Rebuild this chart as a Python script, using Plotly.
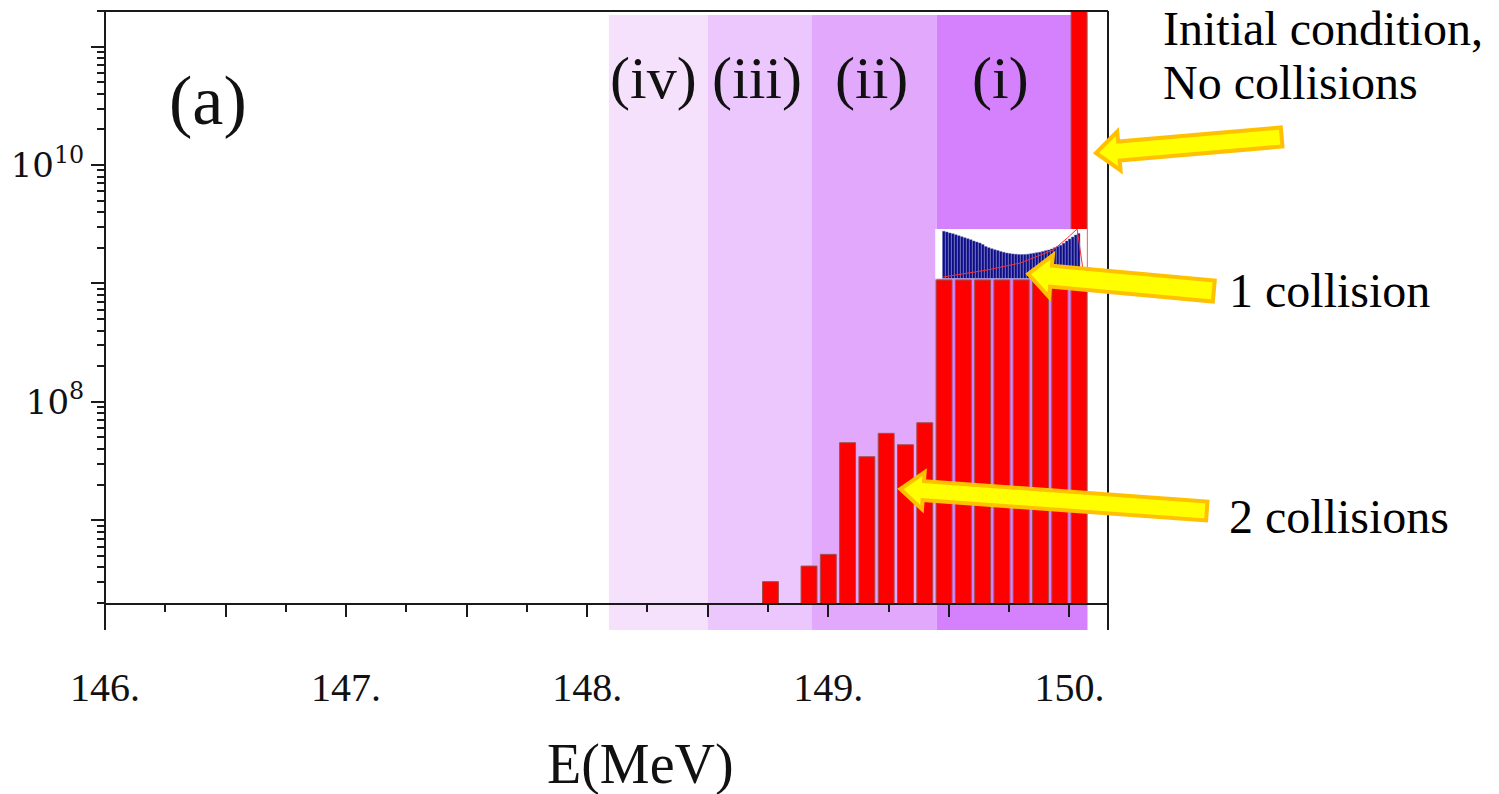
import math
import plotly.graph_objects as go

# ---------------- data ----------------
energy_bins = [150.04, 149.96, 149.88, 149.80, 149.72, 149.64, 149.56, 149.48,
               149.40, 149.32, 149.24, 149.16, 149.08, 149.00, 148.92, 148.76]
counts = [5.0e11, 1.07e9, 1.07e9, 1.07e9, 1.07e9, 1.07e9, 1.07e9, 1.07e9,
          6.66e7, 4.34e7, 5.42e7, 3.44e7, 4.52e7, 5.15e6, 4.10e6, 3.03e6]

region_labels = ["(iv)", "(iii)", "(ii)", "(i)"]
region_edges = [148.09, 148.50, 148.93, 149.45, 150.075]
region_colors = ["#f6e1fc", "#ecc7fd", "#e1a8fc", "#d580fd"]
region_label_x = [148.275, 148.705, 149.18, 149.715]

inset_bins = list(range(46))
inset_counts = [47.3, 46.5, 45.5, 44.8, 43.8, 42.8, 41.8, 40.8, 39.8, 38.8,
                37.5, 36.5, 35.5, 34.0, 32.0, 30.8, 29.8, 28.8, 28.0, 27.0,
                26.2, 25.4, 25.0, 24.6, 24.3, 24.1, 24.0, 24.1, 24.3, 24.7,
                25.2, 25.8, 26.3, 27.0, 27.8, 28.5, 29.5, 30.8, 32.0, 33.2,
                35.2, 37.5, 39.5, 41.5, 43.5, 45.0]
inset_line_x = [-0.2, 14.5, 25.5, 36.5, 41.2, 44.5, 46.8]
inset_line_y = [1.5, 8.5, 15.5, 28.5, 40.5, 49.5, 1.5]
inset_x_range = [-2.83, 47.7]
inset_y_range = [0, 49.5]

x_tick_vals = [146.0, 146.5, 147.0, 147.5, 148.0, 148.5, 149.0, 149.5, 150.0]
x_tick_text = ["146.", "", "147.", "", "148.", "", "149.", "", "150."]
y_tick_vals = [1e7, 1e8, 1e9, 1e10, 1e11]
y_tick_text = ["", "10<sup>8</sup>", "", "10<sup>10</sup>", ""]
y_minor_vals = [k * 10 ** d for d in range(6, 12) for k in range(2, 10)
                if 2e6 <= k * 10 ** d <= 2e11]

# ---------------- layout geometry (pixels) ----------------
W, H = 1499, 794
L, R, T, B = 103, 1108, 11, 603


def px(x):
    return (x - L) / (R - L)


def py(y):
    return (B - y) / (B - T)


def arrow_path(tip, tail, w=10, hw=20, hl=22):
    tx, ty = tip
    ex, ey = tail
    dx, dy = ex - tx, ey - ty
    n = math.hypot(dx, dy)
    ux, uy = dx / n, dy / n
    nx, ny = -uy, ux
    bx, by = tx + ux * hl, ty + uy * hl
    pts = [
        (tx, ty),
        (bx + nx * hw, by + ny * hw),
        (bx + nx * w, by + ny * w),
        (ex + nx * w, ey + ny * w),
        (ex - nx * w, ey - ny * w),
        (bx - nx * w, by - ny * w),
        (bx - nx * hw, by - ny * hw),
    ]
    return "M " + " L ".join(f"{px(a):.5f},{py(b):.5f}" for a, b in pts) + " Z"


fig = go.Figure()

fig.add_trace(go.Bar(
    x=energy_bins, y=counts, width=0.066,
    marker=dict(color="#ff0000", line=dict(color="#a05050", width=1)),
    xaxis="x", yaxis="y", showlegend=False,
))

# white panel behind the inset (spans the inset axes' full ranges)
fig.add_trace(go.Bar(
    x=[sum(inset_x_range) / 2], y=[inset_y_range[1]], base=[inset_y_range[0]],
    width=[inset_x_range[1] - inset_x_range[0]],
    marker=dict(color="white", line=dict(width=0)),
    xaxis="x2", yaxis="y2", showlegend=False, hoverinfo="skip",
))
fig.add_trace(go.Bar(
    x=inset_bins, y=inset_counts,
    marker=dict(color="#0d0d8a", line=dict(color="#6a6ab4", width=0.5)),
    xaxis="x2", yaxis="y2", showlegend=False,
))
fig.add_trace(go.Scatter(
    x=inset_line_x, y=inset_line_y, mode="lines",
    line=dict(color="#ff3030", width=1),
    xaxis="x2", yaxis="y2", showlegend=False,
))

shapes = []
for i in range(4):
    shapes.append(dict(type="rect", xref="x", yref="paper",
                       x0=region_edges[i], x1=region_edges[i + 1],
                       y0=py(630), y1=py(15), fillcolor=region_colors[i],
                       line=dict(width=0), layer="below"))
# frame lines
frame_col = "#1a1a1a"
shapes += [
    dict(type="line", xref="paper", yref="paper", x0=px(L), x1=px(L), y0=py(T), y1=py(630),
         line=dict(color=frame_col, width=2), layer="above"),
    dict(type="line", xref="paper", yref="paper", x0=px(R), x1=px(R), y0=py(T), y1=py(630),
         line=dict(color=frame_col, width=2), layer="above"),
    dict(type="line", xref="paper", yref="paper", x0=px(96), x1=px(R), y0=py(T), y1=py(T),
         line=dict(color=frame_col, width=2), layer="above"),
]
# arrows
for tip, tail, w, hw in [((1096, 153), (1282, 137), 9.5, 19.5),
                         ((1028, 274), (1214, 291), 10.5, 21),
                         ((900, 489), (1207, 511), 9.5, 18.5)]:
    shapes.append(dict(type="path", xref="paper", yref="paper",
                       path=arrow_path(tip, tail, w=w, hw=hw, hl=23),
                       fillcolor="#ffff00", line=dict(color="#ffc000", width=4),
                       layer="above"))

serif = "Liberation Serif"
annotations = []
for lab, xv in zip(region_labels, region_label_x):
    annotations.append(dict(text=lab, x=xv, y=py(78), xref="x", yref="paper",
                            showarrow=False, xanchor="center", yanchor="middle",
                            font=dict(family=serif, size=60, color="#111")))
annotations += [
    dict(text="(a)", x=px(206), y=py(100), xref="paper", yref="paper", showarrow=False,
         xanchor="center", yanchor="middle", font=dict(family=serif, size=70, color="#111")),
    dict(text="Initial condition,", x=px(1161), y=py(29), xref="paper", yref="paper",
         showarrow=False, xanchor="left", yanchor="middle",
         font=dict(family=serif, size=48, color="#000")),
    dict(text="No collisions", x=px(1161), y=py(83), xref="paper", yref="paper",
         showarrow=False, xanchor="left", yanchor="middle",
         font=dict(family=serif, size=48, color="#000")),
    dict(text="1 collision", x=px(1227), y=py(290), xref="paper", yref="paper",
         showarrow=False, xanchor="left", yanchor="middle",
         font=dict(family=serif, size=48, color="#000")),
    dict(text="2 collisions", x=px(1227), y=py(516), xref="paper", yref="paper",
         showarrow=False, xanchor="left", yanchor="middle",
         font=dict(family=serif, size=48, color="#000")),
    dict(text="E(MeV)", x=px(640), y=py(764), xref="paper", yref="paper",
         showarrow=False, xanchor="center", yanchor="middle",
         font=dict(family=serif, size=56, color="#111")),
]

fig.update_layout(
    width=W, height=H,
    margin=dict(l=L, r=W - R, t=T, b=H - B, pad=0),
    paper_bgcolor="white", plot_bgcolor="white",
    showlegend=False,
    bargap=0.12,
    barmode="overlay",
    shapes=shapes,
    annotations=annotations,
    xaxis=dict(
        range=[146.0, 150.16], domain=[0, 1],
        tickmode="array", tickvals=x_tick_vals, ticktext=x_tick_text,
        ticks="outside", ticklen=12, tickwidth=2, tickcolor=frame_col,
        showline=True, linecolor=frame_col, linewidth=2,
        showgrid=False, zeroline=False,
        minor=dict(ticks="outside", ticklen=7, tickwidth=2, tickcolor=frame_col,
                   dtick=0.25, tick0=146.0, showgrid=False),
        tickfont=dict(family=serif, size=40, color="#111"),
        ticklabelstandoff=36,
    ),
    yaxis=dict(
        type="log", range=[math.log10(2e6), math.log10(2e11)], domain=[0, 1],
        tickmode="array", tickvals=y_tick_vals, ticktext=y_tick_text,
        ticks="outside", ticklen=13, tickwidth=2, tickcolor=frame_col,
        showline=False, showgrid=False, zeroline=False,
        minor=dict(ticks="outside", ticklen=7, tickwidth=1.5, tickcolor=frame_col,
                   tickmode="array", tickvals=y_minor_vals, showgrid=False),
        tickfont=dict(family="DejaVu Serif", size=34, color="#111"),
    ),
    xaxis2=dict(domain=[px(935), px(1086.7)], range=inset_x_range, anchor="y2",
                visible=False, fixedrange=True),
    yaxis2=dict(domain=[py(278.5), py(229)], range=inset_y_range, anchor="x2",
                visible=False, fixedrange=True),
)

fig.write_html("out.html", config={"displayModeBar": False},
               post_script="document.body.style.margin='0px';")
